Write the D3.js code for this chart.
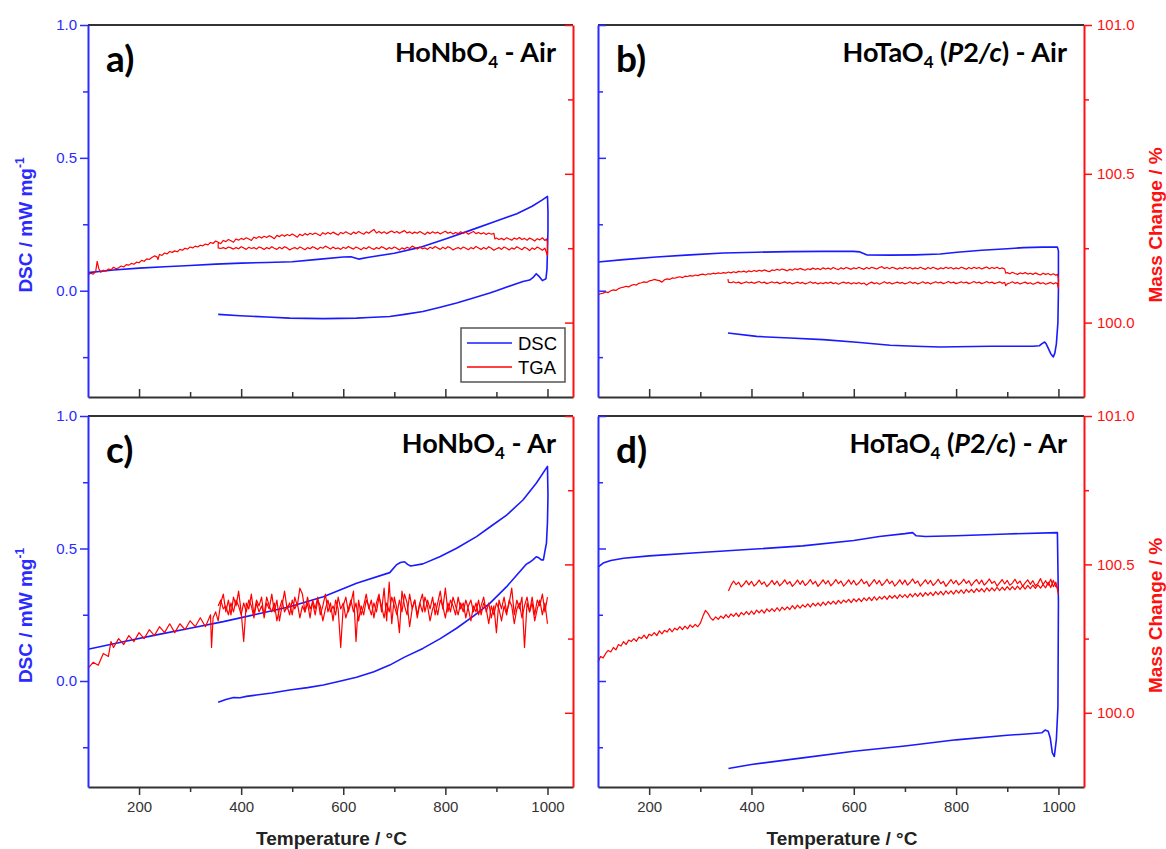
<!DOCTYPE html>
<html><head><meta charset="utf-8">
<script src="https://cdn.jsdelivr.net/npm/d3@7"></script>
<style>body{margin:0;background:#fff} svg{display:block}</style>
</head><body><svg id="c" width="1166" height="849"></svg>
<script>
// ---------- axis definitions ----------
const X_DOMAIN = [100, 1050];
const DSC_DOMAIN = [-0.4, 1.0];
const TGA_DOMAIN = [99.75, 101.0];
const xMajor = [200, 400, 600, 800, 1000];
const xMinor = [300, 500, 700, 900];
const dscMajor = [1.0, 0.5, 0.0];
const dscMinor = [0.75, 0.25, -0.25];
const tgaMajor = [101.0, 100.5, 100.0];
const tgaMinor = [100.75, 100.25];
const legendLabels = ["DSC", "TGA"];

// ---------- panel a: HoNbO4 - Air ----------
const dscA = [[100,0.068],[150,0.078],[200,0.085],[250,0.090],[300,0.095],[350,0.100],[400,0.104],[450,0.106],[500,0.109],[550,0.118],[600,0.127],[615,0.128],[630,0.119],[650,0.126],[700,0.141],[750,0.163],[800,0.195],[850,0.228],[900,0.262],[940,0.290],[970,0.318],[990,0.342],[1000,0.355],
 [1001,0.30],[1001,0.23],[1000,0.15],[999,0.08],[997,0.045],[990,0.038],[983,0.055],[978,0.064],[972,0.050],[965,0.040],[952,0.035],[900,0.000],[887,-0.009],[850,-0.030],[822,-0.046],[790,-0.062],[756,-0.078],[720,-0.089],[691,-0.097],[650,-0.101],[626,-0.103],[561,-0.105],[495,-0.103],[450,-0.099],[398,-0.094],[355,-0.089]];
const tgaA = [[100,100.160],[105,100.166],[110,100.163],[115,100.171],[118,100.206],[121,100.182],[125,100.169],[130,100.176],[135,100.173],[140,100.180],[145,100.177],[150,100.186],[155,100.181],[160,100.184],[165,100.190],[170,100.187],[175,100.195],[180,100.193],[185,100.199],[190,100.196],[195,100.203],[200,100.201],[205,100.209],[210,100.206],[215,100.214],[220,100.212],[225,100.219],[230,100.224],[235,100.221],[237,100.212],[240,100.229],[245,100.226],[250,100.234],[255,100.231],[260,100.239],[265,100.236],[270,100.241],[275,100.238],[280,100.246],[285,100.243],[290,100.250],[295,100.247],[300,100.254],[305,100.251],[310,100.257],[315,100.254],[320,100.260],[325,100.258],[330,100.264],[335,100.261],[340,100.269],[345,100.266],[350,100.274],[355,100.270],[360,100.265],[365,100.276],[370,100.272],[375,100.279],[380,100.275],[385,100.270],[390,100.281],[395,100.277],[400,100.283],[405,100.279],[410,100.285],[415,100.281],[420,100.276],[425,100.287],[430,100.283],[435,100.289],[440,100.284],[445,100.290],[450,100.286],[455,100.292],[460,100.288],[465,100.282],[470,100.293],[475,100.289],[480,100.295],[485,100.290],[490,100.296],[495,100.292],[500,100.298],[505,100.293],[510,100.287],[515,100.297],[520,100.292],[525,100.299],[530,100.294],[535,100.300],[540,100.296],[545,100.301],[550,100.297],[555,100.292],[560,100.302],[565,100.297],[570,100.303],[575,100.298],[580,100.304],[585,100.299],[590,100.294],[595,100.303],[600,100.299],[605,100.305],[610,100.300],[615,100.296],[620,100.304],[625,100.299],[630,100.306],[635,100.301],[640,100.297],[645,100.305],[650,100.300],[655,100.307],[660,100.313],[665,100.301],[670,100.306],[675,100.300],[680,100.305],[685,100.299],[690,100.304],[695,100.308],[700,100.302],[705,100.306],[710,100.300],[715,100.305],[720,100.309],[725,100.301],[730,100.305],[735,100.299],[740,100.304],[745,100.300],[750,100.306],[755,100.301],[760,100.296],[765,100.304],[770,100.299],[775,100.305],[780,100.300],[785,100.304],[790,100.298],[795,100.303],[800,100.307],[805,100.300],[810,100.304],[815,100.298],[820,100.303],[825,100.299],[830,100.305],[835,100.300],[840,100.304],[845,100.297],[850,100.302],[855,100.306],[860,100.299],[865,100.303],[870,100.298],[875,100.302],[880,100.296],[885,100.301],[890,100.297],[895,100.300],[897,100.281],[900,100.284],[905,100.279],[910,100.283],[915,100.278],[920,100.285],[925,100.281],[930,100.277],[935,100.284],[940,100.280],[945,100.286],[950,100.279],[955,100.283],[960,100.277],[965,100.284],[970,100.280],[975,100.274],[980,100.282],[985,100.278],[990,100.285],[995,100.276],[998,100.281],
 [1000,100.270],[1000,100.240],[1000,100.225],[995,100.250],[990,100.243],[985,100.249],[980,100.254],[975,100.246],[970,100.251],[965,100.242],[960,100.249],[955,100.253],[950,100.245],[945,100.250],[940,100.255],[935,100.247],[930,100.251],[925,100.244],[920,100.250],[915,100.254],[910,100.246],[905,100.252],[900,100.248],[895,100.243],[890,100.250],[885,100.255],[880,100.247],[875,100.252],[870,100.246],[865,100.251],[860,100.256],[855,100.248],[850,100.252],[845,100.245],[840,100.250],[835,100.254],[830,100.247],[825,100.252],[820,100.249],[815,100.244],[810,100.251],[805,100.255],[800,100.248],[795,100.253],[790,100.246],[785,100.251],[780,100.256],[775,100.249],[770,100.253],[765,100.246],[760,100.251],[755,100.248],[750,100.254],[745,100.247],[740,100.252],[735,100.257],[730,100.249],[725,100.253],[720,100.247],[715,100.251],[710,100.244],[705,100.250],[700,100.254],[695,100.248],[690,100.252],[685,100.246],[680,100.251],[675,100.255],[670,100.248],[665,100.252],[660,100.246],[655,100.250],[650,100.255],[645,100.248],[640,100.252],[635,100.245],[630,100.250],[625,100.254],[620,100.247],[615,100.251],[610,100.256],[605,100.249],[600,100.253],[595,100.246],[590,100.251],[585,100.248],[580,100.254],[575,100.247],[570,100.252],[565,100.257],[560,100.250],[555,100.253],[550,100.246],[545,100.251],[540,100.255],[535,100.248],[530,100.252],[525,100.245],[520,100.250],[515,100.254],[510,100.247],[505,100.252],[500,100.249],[495,100.244],[490,100.251],[485,100.255],[480,100.248],[475,100.253],[470,100.246],[465,100.250],[460,100.255],[455,100.248],[450,100.252],[445,100.246],[440,100.251],[435,100.254],[430,100.247],[425,100.252],[420,100.249],[415,100.253],[410,100.246],[405,100.251],[400,100.255],[395,100.248],[390,100.252],[385,100.247],[380,100.251],[375,100.254],[370,100.248],[365,100.252],[360,100.249],[355,100.251],[355,100.272]];

// ---------- panel b: HoTaO4 (P2/c) - Air ----------
const dscB = [[100,0.108],[150,0.117],[214,0.127],[280,0.135],[345,0.142],[410,0.145],[475,0.147],[540,0.148],[599,0.148],[612,0.146],[625,0.135],[671,0.134],[720,0.135],[769,0.138],[802,0.145],[850,0.152],[900,0.158],[932,0.162],[970,0.164],[998,0.164],
 [1000,0.150],[1000,0.000],[999,-0.120],[996,-0.200],[993,-0.235],[990,-0.249],[985,-0.237],[980,-0.216],[976,-0.200],[973,-0.193],[968,-0.199],[963,-0.207],[950,-0.209],[932,-0.209],[867,-0.209],[800,-0.211],[769,-0.212],[720,-0.209],[671,-0.205],[606,-0.194],[540,-0.184],[475,-0.178],[410,-0.172],[354,-0.159]];
const tgaB = [[100,100.094],[105,100.097],[110,100.099],[115,100.103],[120,100.101],[125,100.107],[130,100.110],[135,100.108],[140,100.114],[145,100.117],[150,100.119],[155,100.122],[160,100.120],[165,100.125],[170,100.128],[175,100.126],[180,100.132],[185,100.134],[190,100.137],[195,100.135],[200,100.140],[205,100.142],[210,100.145],[215,100.143],[220,100.141],[225,100.136],[230,100.144],[235,100.147],[240,100.145],[245,100.150],[250,100.149],[255,100.152],[260,100.154],[265,100.151],[270,100.156],[275,100.155],[280,100.158],[285,100.156],[290,100.160],[295,100.158],[300,100.161],[305,100.163],[310,100.160],[315,100.164],[320,100.163],[325,100.166],[330,100.164],[335,100.167],[340,100.165],[345,100.168],[350,100.166],[355,100.170],[360,100.167],[365,100.171],[370,100.168],[375,100.172],[380,100.170],[385,100.173],[390,100.169],[395,100.174],[400,100.171],[405,100.175],[410,100.172],[415,100.176],[420,100.173],[425,100.177],[430,100.174],[435,100.171],[440,100.177],[445,100.175],[450,100.179],[455,100.176],[460,100.180],[465,100.177],[470,100.174],[475,100.179],[480,100.176],[485,100.181],[490,100.178],[495,100.182],[500,100.179],[505,100.176],[510,100.181],[515,100.178],[520,100.183],[525,100.179],[530,100.182],[535,100.178],[540,100.184],[545,100.180],[550,100.183],[555,100.179],[560,100.185],[565,100.181],[570,100.178],[575,100.184],[580,100.180],[585,100.185],[590,100.182],[595,100.179],[600,100.184],[605,100.181],[610,100.186],[615,100.182],[620,100.179],[625,100.185],[630,100.181],[635,100.186],[640,100.183],[645,100.180],[650,100.185],[655,100.188],[660,100.182],[665,100.185],[670,100.181],[675,100.186],[680,100.183],[685,100.179],[690,100.184],[695,100.181],[700,100.186],[705,100.182],[710,100.185],[715,100.180],[720,100.184],[725,100.181],[730,100.186],[735,100.182],[740,100.179],[745,100.185],[750,100.181],[755,100.186],[760,100.182],[765,100.179],[770,100.184],[775,100.181],[780,100.186],[785,100.182],[790,100.185],[795,100.180],[800,100.184],[805,100.181],[810,100.186],[815,100.183],[820,100.179],[825,100.185],[830,100.181],[835,100.186],[840,100.182],[845,100.185],[850,100.180],[855,100.184],[860,100.187],[865,100.181],[870,100.185],[875,100.182],[880,100.186],[885,100.181],[890,100.184],[895,100.180],[897,100.166],[900,100.168],[905,100.164],[910,100.169],[915,100.165],[920,100.162],[925,100.167],[930,100.164],[935,100.168],[940,100.163],[945,100.166],[950,100.162],[955,100.167],[960,100.163],[965,100.160],[970,100.166],[975,100.162],[980,100.165],[985,100.160],[990,100.164],[995,100.159],[998,100.162],
 [1000,100.150],[1000,100.115],[998,100.131],[995,100.134],[990,100.130],[985,100.135],[980,100.132],[975,100.129],[970,100.134],[965,100.131],[960,100.136],[955,100.132],[950,100.129],[945,100.134],[940,100.131],[935,100.136],[930,100.133],[925,100.130],[920,100.135],[915,100.132],[910,100.137],[905,100.133],[900,100.130],[897,100.124],[895,100.135],[890,100.132],[885,100.137],[880,100.134],[875,100.131],[870,100.136],[865,100.133],[860,100.138],[855,100.134],[850,100.131],[845,100.136],[840,100.133],[835,100.138],[830,100.134],[825,100.131],[820,100.136],[815,100.133],[810,100.137],[805,100.134],[800,100.131],[795,100.136],[790,100.133],[785,100.138],[780,100.134],[775,100.131],[770,100.136],[765,100.133],[760,100.137],[755,100.134],[750,100.130],[745,100.135],[740,100.132],[735,100.137],[730,100.133],[725,100.130],[720,100.135],[715,100.132],[710,100.137],[705,100.133],[700,100.130],[695,100.135],[690,100.132],[685,100.136],[680,100.133],[675,100.130],[670,100.135],[665,100.132],[660,100.137],[655,100.133],[650,100.129],[645,100.134],[640,100.131],[635,100.136],[630,100.132],[625,100.126],[620,100.133],[615,100.130],[610,100.135],[605,100.131],[600,100.134],[595,100.130],[590,100.135],[585,100.132],[580,100.136],[575,100.133],[570,100.129],[565,100.134],[560,100.131],[555,100.136],[550,100.132],[545,100.135],[540,100.131],[535,100.134],[530,100.130],[525,100.135],[520,100.132],[515,100.137],[510,100.133],[505,100.130],[500,100.135],[495,100.132],[490,100.136],[485,100.133],[480,100.130],[475,100.135],[470,100.132],[465,100.137],[460,100.134],[455,100.131],[450,100.136],[445,100.133],[440,100.137],[435,100.134],[430,100.131],[425,100.136],[420,100.133],[415,100.138],[410,100.135],[405,100.132],[400,100.136],[395,100.133],[390,100.137],[385,100.134],[380,100.131],[375,100.136],[370,100.133],[365,100.137],[360,100.134],[355,100.136],[354,100.146]];

// ---------- panel c: HoNbO4 - Ar ----------
const dscC = [[100,0.120],[169,0.148],[234,0.174],[300,0.199],[365,0.224],[430,0.252],[495,0.280],[561,0.318],[626,0.369],[691,0.409],[704,0.438],[712,0.447],[720,0.450],[726,0.440],[732,0.434],[756,0.442],[790,0.470],[822,0.501],[861,0.545],[890,0.585],[920,0.626],[952,0.683],[978,0.746],[1000,0.810],
 [1001,0.700],[1000,0.600],[998,0.520],[995,0.490],[992,0.457],[988,0.457],[983,0.465],[978,0.469],[972,0.458],[965,0.448],[958,0.440],[940,0.400],[920,0.356],[887,0.293],[855,0.245],[822,0.199],[790,0.160],[756,0.123],[720,0.090],[691,0.060],[660,0.035],[626,0.014],[595,0.000],[561,-0.015],[530,-0.025],[495,-0.034],[460,-0.045],[430,-0.053],[410,-0.058],[398,-0.063],[385,-0.062],[370,-0.070],[355,-0.080]];
const tgaCheat = [[100,100.15],[110,100.17],[120,100.16],[130,100.20],[140,100.19],[145,100.24],[150,100.22],[160,100.25],[170,100.23],[180,100.26],[190,100.24],[200,100.27],[210,100.25],[220,100.28],[230,100.26],[240,100.29],[250,100.27],[260,100.30],[270,100.27],[280,100.30],[290,100.28],[300,100.31],[310,100.29],[320,100.32],[330,100.29],[340,100.33],[342,100.22],[345,100.32],[350,100.34],[355,100.31],
 [360,100.37],[365,100.40],[370,100.34],[375,100.38],[380,100.33],[385,100.39],[390,100.36],[395,100.41],[400,100.34],[405,100.24],[410,100.37],[415,100.35],[420,100.40],[425,100.33],[430,100.38],[435,100.36],[440,100.39],[445,100.32],[450,100.37],[455,100.35],[460,100.40],[465,100.34],[470,100.38],[475,100.31],[480,100.36],[485,100.41],[490,100.35],[495,100.37],[500,100.33],[505,100.39],[510,100.36],[515,100.42],[520,100.40],[525,100.34],[530,100.37],[535,100.32],[540,100.38],[545,100.35],[550,100.39],[555,100.33],[560,100.36],[565,100.40],[570,100.34],[575,100.37],[580,100.31],[585,100.38],[590,100.35],[595,100.22],[600,100.36],[605,100.39],[610,100.34],[615,100.37],[620,100.41],[625,100.24],[630,100.38],[635,100.33],[640,100.36],[645,100.40],[650,100.35],[655,100.38],[660,100.32],[665,100.37],[670,100.40],[675,100.34],[680,100.42],[685,100.31],[690,100.44],[695,100.30],[700,100.39],[705,100.35],[710,100.27],[715,100.41],[720,100.36],[725,100.33],[730,100.40],[735,100.35],[740,100.38],[745,100.32],[750,100.37],[755,100.40],[760,100.34],[765,100.38],[770,100.35],[775,100.39],[780,100.33],[785,100.37],[790,100.41],[795,100.35],[800,100.42],[805,100.34],[810,100.38],[815,100.36],[820,100.33],[825,100.39],[830,100.35],[835,100.37],[840,100.32],[845,100.36],[850,100.38],[855,100.34],[860,100.37],[865,100.33],[870,100.36],[875,100.39],[880,100.34],[885,100.37],[890,100.32],[895,100.36],[900,100.27],[905,100.38],[910,100.35],[915,100.39],[920,100.34],[925,100.37],[930,100.42],[935,100.33],[940,100.38],[945,100.35],[950,100.39],[955,100.22],[960,100.37],[965,100.34],[970,100.39],[975,100.33],[980,100.38],[985,100.36],[990,100.40],[995,100.34],[1000,100.39]];
const tgaCcool = [[1000,100.30],[995,100.37],[990,100.33],[985,100.38],[980,100.35],[975,100.31],[970,100.37],[965,100.34],[960,100.39],[955,100.36],[950,100.32],[945,100.37],[940,100.35],[935,100.30],[930,100.36],[925,100.38],[920,100.33],[915,100.36],[910,100.31],[905,100.35],[900,100.37],[895,100.33],[890,100.36],[885,100.30],[880,100.35],[875,100.37],[870,100.33],[865,100.38],[860,100.34],[855,100.36],[850,100.31],[845,100.35],[840,100.38],[835,100.34],[830,100.37],[825,100.33],[820,100.36],[815,100.39],[810,100.34],[805,100.37],[800,100.32],[795,100.36],[790,100.38],[785,100.33],[780,100.37],[775,100.35],[770,100.31],[765,100.36],[760,100.39],[755,100.34],[750,100.37],[745,100.33],[740,100.38],[735,100.35],[730,100.29],[725,100.37],[720,100.40],[715,100.34],[710,100.38],[705,100.33],[700,100.36],[695,100.39],[690,100.34],[685,100.37],[680,100.32],[675,100.36],[670,100.39],[665,100.34],[660,100.37],[655,100.33],[650,100.36],[645,100.38],[640,100.33],[635,100.36],[630,100.31],[625,100.37],[620,100.34],[615,100.38],[610,100.35],[605,100.32],[600,100.37],[595,100.35],[590,100.39],[585,100.33],[580,100.36],[575,100.34],[570,100.38],[565,100.35],[560,100.31],[555,100.36],[550,100.38],[545,100.33],[540,100.37],[535,100.35],[530,100.39],[525,100.34],[520,100.36],[515,100.32],[510,100.37],[505,100.35],[500,100.38],[495,100.33],[490,100.36],[485,100.34],[480,100.38],[475,100.35],[470,100.31],[465,100.37],[460,100.34],[455,100.36],[450,100.39],[445,100.33],[440,100.36],[435,100.34],[430,100.37],[425,100.32],[420,100.36],[415,100.38],[410,100.34],[405,100.37],[400,100.33],[395,100.36],[390,100.38],[385,100.34],[380,100.37],[375,100.33],[370,100.36],[365,100.35],[360,100.38],[355,100.36]];

// ---------- panel d: HoTaO4 (P2/c) - Ar ----------
const dscD = [[100,0.430],[110,0.445],[125,0.455],[150,0.463],[200,0.472],[300,0.485],[400,0.497],[500,0.510],[600,0.530],[650,0.545],[700,0.556],[715,0.560],[722,0.548],[740,0.545],[800,0.548],[900,0.555],[998,0.560],
 [1000,0.300],[999,-0.100],[996,-0.220],[992,-0.285],[988,-0.270],[984,-0.215],[980,-0.190],[974,-0.185],[968,-0.195],[950,-0.198],[900,-0.205],[800,-0.222],[700,-0.245],[600,-0.265],[500,-0.290],[420,-0.310],[400,-0.315],[380,-0.322],[355,-0.330]];
const tgaDheat = [[100,100.170],[105,100.190],[110,100.185],[115,100.200],[120,100.210],[125,100.205],[130,100.220],[135,100.212],[140,100.230],[145,100.225],[150,100.240],[155,100.230],[160,100.245],[165,100.240],[170,100.250],[175,100.241],[180,100.255],[185,100.250],[190,100.262],[195,100.250],[200,100.265],[205,100.260],[210,100.270],[215,100.260],[220,100.276],[225,100.266],[230,100.278],[235,100.272],[240,100.284],[245,100.273],[250,100.285],[255,100.279],[260,100.290],[265,100.280],[270,100.292],[275,100.283],[280,100.296],[285,100.288],[290,100.298],[295,100.290],[300,100.302],[305,100.325],[310,100.345],[315,100.335],[320,100.320],[325,100.312],[330,100.323],[335,100.315],[340,100.326],[345,100.318],[350,100.331],[355,100.321],[360,100.333],[365,100.325],[370,100.336],[375,100.324],[380,100.338],[385,100.330],[390,100.341],[395,100.331],[400,100.343],[405,100.332],[410,100.346],[415,100.337],[420,100.347],[425,100.336],[430,100.350],[435,100.341],[440,100.351],[445,100.342],[450,100.354],[455,100.343],[460,100.356],[465,100.347],[470,100.357],[475,100.348],[480,100.361],[485,100.350],[490,100.363],[495,100.353],[500,100.364],[505,100.356],[510,100.367],[515,100.356],[520,100.369],[525,100.360],[530,100.370],[535,100.360],[540,100.373],[545,100.363],[550,100.375],[555,100.366],[560,100.376],[565,100.366],[570,100.379],[575,100.369],[580,100.380],[585,100.372],[590,100.382],[595,100.371],[600,100.384],[605,100.375],[610,100.385],[615,100.375],[620,100.387],[625,100.378],[630,100.389],[635,100.378],[640,100.391],[645,100.380],[650,100.391],[655,100.383],[660,100.393],[665,100.382],[670,100.395],[675,100.386],[680,100.396],[685,100.385],[690,100.398],[695,100.389],[700,100.398],[705,100.388],[710,100.401],[715,100.391],[720,100.402],[725,100.392],[730,100.404],[735,100.392],[740,100.405],[745,100.396],[750,100.406],[755,100.395],[760,100.408],[765,100.398],[770,100.409],[775,100.397],[780,100.411],[785,100.401],[790,100.411],[795,100.400],[800,100.413],[805,100.403],[810,100.414],[815,100.402],[820,100.416],[825,100.406],[830,100.416],[835,100.405],[840,100.418],[845,100.408],[850,100.418],[855,100.407],[860,100.421],[865,100.410],[870,100.421],[875,100.411],[880,100.423],[885,100.412],[890,100.423],[895,100.413],[900,100.425],[905,100.414],[910,100.425],[915,100.415],[920,100.427],[925,100.416],[930,100.428],[935,100.417],[940,100.429],[945,100.418],[950,100.430],[955,100.419],[960,100.431],[965,100.420],[970,100.432],[975,100.421],[980,100.440],[985,100.422],[990,100.446],[995,100.425],[1000,100.420]];
const tgaDcool = [[1000,100.400],[995,100.440],[990,100.425],[985,100.450],[980,100.430],[975,100.445],[970,100.432],[965,100.452],[960,100.436],[955,100.428],[950,100.445],[945,100.433],[940,100.448],[935,100.438],[930,100.426],[925,100.444],[920,100.435],[915,100.450],[910,100.437],[905,100.430],[900,100.446],[895,100.434],[890,100.449],[885,100.438],[880,100.427],[875,100.443],[870,100.436],[865,100.451],[860,100.439],[855,100.430],[850,100.447],[845,100.434],[840,100.449],[835,100.440],[830,100.428],[825,100.445],[820,100.436],[815,100.450],[810,100.438],[805,100.431],[800,100.446],[795,100.435],[790,100.449],[785,100.437],[780,100.426],[775,100.443],[770,100.435],[765,100.450],[760,100.438],[755,100.429],[750,100.446],[745,100.434],[740,100.448],[735,100.437],[730,100.427],[725,100.444],[720,100.436],[715,100.451],[710,100.439],[705,100.430],[700,100.447],[695,100.433],[690,100.448],[685,100.436],[680,100.427],[675,100.444],[670,100.435],[665,100.450],[660,100.438],[655,100.429],[650,100.446],[645,100.434],[640,100.449],[635,100.437],[630,100.426],[625,100.443],[620,100.435],[615,100.450],[610,100.438],[605,100.430],[600,100.446],[595,100.433],[590,100.448],[585,100.436],[580,100.427],[575,100.444],[570,100.435],[565,100.449],[560,100.437],[555,100.428],[550,100.445],[545,100.434],[540,100.448],[535,100.436],[530,100.426],[525,100.443],[520,100.434],[515,100.449],[510,100.437],[505,100.429],[500,100.445],[495,100.433],[490,100.447],[485,100.435],[480,100.426],[475,100.442],[470,100.434],[465,100.448],[460,100.436],[455,100.428],[450,100.444],[445,100.432],[440,100.446],[435,100.434],[430,100.425],[425,100.441],[420,100.433],[415,100.447],[410,100.435],[405,100.427],[400,100.443],[395,100.431],[390,100.445],[385,100.433],[380,100.424],[375,100.440],[370,100.432],[365,100.444],[360,100.430],[355,100.410]];

// ---------- drawing ----------
const BLUE = "#1a1aff", RED = "#ff0000", DARK = "#333333";
const AXBLUE = "#2b2bff", AXRED = "#ff1010";
const svg = d3.select("#c");

const panels = [
  {left:88, right:573, top:25, bottom:397, tag:"a)", title:[["HoNbO",""],["4","sub"],[" - Air",""]], xLab:false, lLab:true, rLab:false, dsc:[dscA], tga:[tgaA], legend:true},
  {left:598, right:1084, top:25, bottom:397, tag:"b)", title:[["HoTaO",""],["4","sub"],[" (",""],["P","it"],["2",""],["/c","it"],[") - Air",""]], xLab:false, lLab:false, rLab:true, dsc:[dscB], tga:[tgaB]},
  {left:88, right:573, top:416, bottom:787, tag:"c)", title:[["HoNbO",""],["4","sub"],[" - Ar",""]], xLab:true, lLab:true, rLab:false, dsc:[dscC], tga:[tgaCheat, tgaCcool]},
  {left:598, right:1084, top:416, bottom:787, tag:"d)", title:[["HoTaO",""],["4","sub"],[" (",""],["P","it"],["2",""],["/c","it"],[") - Ar",""]], xLab:true, lLab:false, rLab:true, dsc:[dscD], tga:[tgaDheat, tgaDcool]}
];

const tickFont = "'Liberation Sans', Arial, sans-serif";
const titleFont = "Lato, 'Open Sans', sans-serif";

panels.forEach((p) => {
  const g = svg.append("g");
  const x = d3.scaleLinear().domain(X_DOMAIN).range([p.left, p.right]);
  const yL = d3.scaleLinear().domain(DSC_DOMAIN).range([p.bottom, p.top]);
  const yR = d3.scaleLinear().domain(TGA_DOMAIN).range([p.bottom, p.top]);

  const lineL = d3.line().x(d => x(d[0])).y(d => yL(d[1]));
  const lineR = d3.line().x(d => x(d[0])).y(d => yR(d[1]));

  p.dsc.forEach(s => g.append("path").attr("d", lineL(s)).attr("fill", "none")
    .attr("stroke", BLUE).attr("stroke-width", 1.6).attr("stroke-linejoin", "round"));
  p.tga.forEach(s => g.append("path").attr("d", lineR(s)).attr("fill", "none")
    .attr("stroke", RED).attr("stroke-width", 1.2).attr("stroke-linejoin", "round"));

  // top border
  g.append("line").attr("x1", p.left).attr("x2", p.right).attr("y1", p.top).attr("y2", p.top)
    .attr("stroke", DARK).attr("stroke-width", 2);

  // bottom axis
  const sgn = p.xLab ? 1 : -1;
  const bx = g.append("g").attr("transform", `translate(0,${p.bottom})`)
    .call(d3.axisBottom(x).tickValues(xMajor).tickSize(8 * sgn).tickSizeOuter(0).tickPadding(6)
      .tickFormat(p.xLab ? d3.format("d") : () => ""));
  const bm = g.append("g").attr("transform", `translate(0,${p.bottom})`)
    .call(d3.axisBottom(x).tickValues(xMinor).tickSize(5 * sgn).tickSizeOuter(0).tickFormat(() => ""));
  bm.select(".domain").remove();
  bx.select(".domain").attr("stroke", DARK).attr("stroke-width", 2);
  [bx, bm].forEach(a => a.selectAll(".tick line").attr("stroke", DARK).attr("stroke-width", 1.5));
  bx.selectAll("text").attr("fill", DARK).style("font-family", tickFont).style("font-size", "15px");

  // left axis
  const ls = p.lLab ? 1 : -1;
  const la = g.append("g").attr("transform", `translate(${p.left},0)`)
    .call(d3.axisLeft(yL).tickValues(dscMajor).tickSize(8 * ls).tickSizeOuter(0).tickPadding(3)
      .tickFormat(p.lLab ? d3.format(".1f") : () => ""));
  const lm = g.append("g").attr("transform", `translate(${p.left},0)`)
    .call(d3.axisLeft(yL).tickValues(dscMinor).tickSize(5 * ls).tickSizeOuter(0).tickFormat(() => ""));
  lm.select(".domain").remove();
  [la, lm].forEach(a => a.selectAll(".tick line").attr("stroke", AXBLUE).attr("stroke-width", 1.5));
  la.select(".domain").attr("stroke", AXBLUE).attr("stroke-width", 2);
  la.selectAll("text").attr("fill", AXBLUE).style("font-family", tickFont).style("font-size", "15px");

  // right axis
  const rs = p.rLab ? 1 : -1;
  const ra = g.append("g").attr("transform", `translate(${p.right},0)`)
    .call(d3.axisRight(yR).tickValues(tgaMajor).tickSize(8 * rs).tickSizeOuter(0).tickPadding(5)
      .tickFormat(p.rLab ? d3.format(".1f") : () => ""));
  const rm = g.append("g").attr("transform", `translate(${p.right},0)`)
    .call(d3.axisRight(yR).tickValues(tgaMinor).tickSize(5 * rs).tickSizeOuter(0).tickFormat(() => ""));
  rm.select(".domain").remove();
  [ra, rm].forEach(a => a.selectAll(".tick line").attr("stroke", AXRED).attr("stroke-width", 1.5));
  ra.select(".domain").attr("stroke", AXRED).attr("stroke-width", 2);
  ra.selectAll("text").attr("fill", AXRED).style("font-family", tickFont).style("font-size", "15px");

  // panel tag
  g.append("text").attr("x", p.left + 18).attr("y", p.top + 47).text(p.tag)
    .style("font-family", titleFont).style("font-weight", "bold").style("font-size", "37px").attr("fill", "#000");

  // title
  const t = g.append("text").attr("x", p.right - 17).attr("y", p.top + 37).attr("text-anchor", "end")
    .style("font-family", titleFont).style("font-weight", "bold").style("font-size", "27px").attr("fill", "#000");
  p.title.forEach(([s, kind], k) => {
    const ts = t.append("tspan").text(s);
    if (kind === "sub") ts.attr("dy", 6).style("font-size", "17px");
    else if (k > 0 && p.title[k - 1][1] === "sub") ts.attr("dy", -6);
    if (kind === "it") ts.style("font-style", "italic");
  });

  // y labels
  if (p.lLab) {
    const cy = (p.top + p.bottom) / 2 + 14;
    const yl = g.append("text").attr("transform", `translate(32,${cy}) rotate(-90)`).attr("text-anchor", "middle")
      .style("font-family", tickFont).style("font-weight", "bold").style("font-size", "19px").attr("fill", AXBLUE);
    yl.append("tspan").text("DSC / mW mg");
    yl.append("tspan").text("-1").attr("dy", -8).style("font-size", "12px");
  }
  if (p.rLab) {
    const cy = (p.top + p.bottom) / 2 + 14;
    g.append("text").attr("transform", `translate(1162,${cy}) rotate(-90)`).attr("text-anchor", "middle")
      .style("font-family", tickFont).style("font-weight", "bold").style("font-size", "19px").attr("fill", AXRED)
      .text("Mass Change / %");
  }
  if (p.xLab) {
    g.append("text").attr("x", (p.left + p.right) / 2 + 1).attr("y", 845).attr("text-anchor", "middle")
      .style("font-family", tickFont).style("font-weight", "bold").style("font-size", "19px").attr("fill", "#222")
      .text("Temperature / °C");
  }

  // legend
  if (p.legend) {
    const lx = p.right - 8 - 104, ly = p.bottom - 15 - 54;
    const lg = g.append("g");
    lg.append("rect").attr("x", lx).attr("y", ly).attr("width", 104).attr("height", 54)
      .attr("fill", "#fff").attr("stroke", "#555").attr("stroke-width", 1.5);
    legendLabels.forEach((lab, k) => {
      const yy = ly + 15 + k * 24;
      lg.append("line").attr("x1", lx + 6).attr("x2", lx + 51).attr("y1", yy).attr("y2", yy)
        .attr("stroke", k === 0 ? BLUE : RED).attr("stroke-width", 1.6);
      lg.append("text").attr("x", lx + 57).attr("y", yy + 6.5).text(lab)
        .style("font-family", tickFont).style("font-size", "18.5px").attr("fill", "#000");
    });
  }
});
</script>
</body></html>
